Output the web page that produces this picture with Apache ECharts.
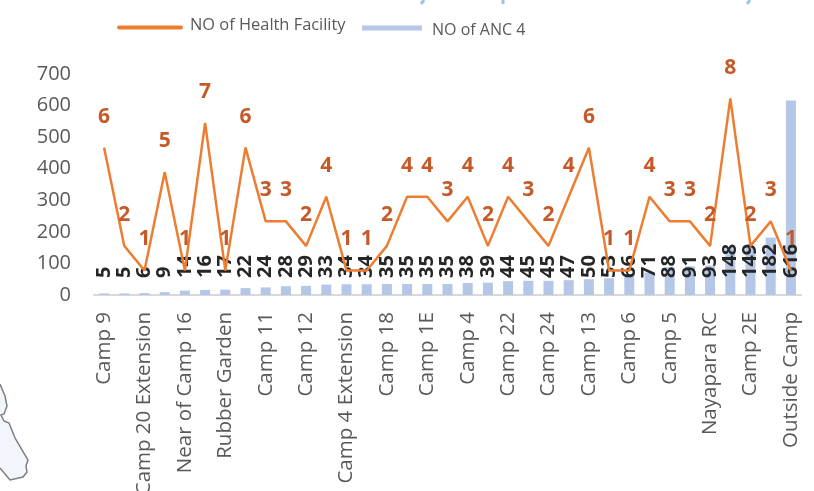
<!DOCTYPE html>
<html>
<head>
<meta charset="utf-8">
<style>html,body{margin:0;padding:0;background:#fff}#c{width:814px;height:491px}</style>
<script src="https://cdn.jsdelivr.net/npm/echarts@6/dist/echarts.min.js"></script>
</head>
<body>
<div id="c"></div>
<script>
const categories = ["Camp 9","","Camp 20 Extension","","Near of Camp 16","","Rubber Garden","","Camp 11","","Camp 12","","Camp 4 Extension","","Camp 18","","Camp 1E","","Camp 4","","Camp 22","","Camp 24","","Camp 13","","Camp 6","","Camp 5","","Nayapara RC","","Camp 2E","","Outside Camp"];
const ancValues = [5,5,6,9,14,16,17,22,24,28,29,33,34,34,35,35,35,35,38,39,44,45,45,47,50,53,66,71,88,91,93,148,149,182,616];
const facilityValues = [6,2,1,5,1,7,1,6,3,3,2,4,1,1,2,4,4,3,4,2,4,3,2,4,6,1,1,4,3,3,2,8,2,3,1];
const axisTicks = [0,100,200,300,400,500,600,700];

const font = '"Open Sans", sans-serif';
const chart = echarts.init(document.getElementById('c'), null, {renderer:'canvas'});
chart.setOption({
  animation:false,
  textStyle:{fontFamily:font},
  legend:[
    {data:[{name:'NO of Health Facility',icon:'path://M2 4H64A2 2 0 0 1 64 8H2A2 2 0 0 1 2 4Z M0 0H0V0Z'}],left:112,top:12.5,itemWidth:66,itemHeight:8,
     textStyle:{fontSize:16.4,color:'#595959',fontFamily:font,padding:[0,0,0,2]}},
    {data:[{name:'NO of ANC 4',icon:'path://M0 0H60V5H0Z M0 9H0V9Z'}],left:357,top:17,itemWidth:60,itemHeight:9,
     textStyle:{fontSize:16,color:'#595959',fontFamily:font,padding:[0,0,0,5]}}
  ],
  grid:{left:94,right:13,top:74,bottom:196,containLabel:false,outerBoundsMode:'none'},
  xAxis:{type:'category',data:categories,
    axisLine:{lineStyle:{color:'#D9D9D9',width:2}},axisTick:{show:false},
    axisLabel:{interval:0,rotate:90,fontSize:20.5,color:'#595959',margin:17,fontFamily:font}},
  yAxis:[
    {type:'value',min:0,max:700,interval:100,splitLine:{show:false},axisLine:{show:false},axisTick:{show:false},
     axisLabel:{fontSize:20,color:'#595959',margin:23,fontFamily:font,
       formatter:v=>axisTicks.includes(v)?String(v):''}},
    {type:'value',min:0,max:9,show:false,splitLine:{show:false}}
  ],
  series:[
    {name:'NO of ANC 4',type:'bar',data:ancValues,barWidth:10,itemStyle:{color:'#B4C7E7'},z:2,
     label:{show:true,position:'insideBottom',distance:17,rotate:90,align:'left',verticalAlign:'middle',
       fontSize:20,fontWeight:'bold',color:'#262626',fontFamily:font}},
    {name:'NO of Health Facility',type:'line',yAxisIndex:1,data:facilityValues,symbol:'circle',symbolSize:1,showSymbol:true,showAllSymbol:true,
     lineStyle:{color:'#ED7D31',width:2.5},itemStyle:{color:'#ED7D31'},z:3,
     label:{show:true,position:'top',distance:20,fontSize:21,fontWeight:'bold',color:'#C55A28',fontFamily:font}}
  ],
  graphic:[
    {type:'polyline',silent:true,z:0,
     shape:{points:[[0,384],[5,396],[7,406],[4,414],[1,415],[4,421],[9,423],[15,438],[28,460],[26,466],[27,472],[23,477],[10,480],[0,468]]},
     style:{fill:'#F2F5FB',stroke:'#7F7F7F',lineWidth:1.5}},
    {type:'line',silent:true,shape:{x1:424,y1:0,x2:421,y2:4},style:{stroke:'#9DC3E6',lineWidth:3}},
    {type:'line',silent:true,shape:{x1:503,y1:0,x2:503,y2:4},style:{stroke:'#9DC3E6',lineWidth:3}},
    {type:'line',silent:true,shape:{x1:750,y1:0,x2:747,y2:4},style:{stroke:'#9DC3E6',lineWidth:3}}
  ]
});
</script>
</body>
</html>
